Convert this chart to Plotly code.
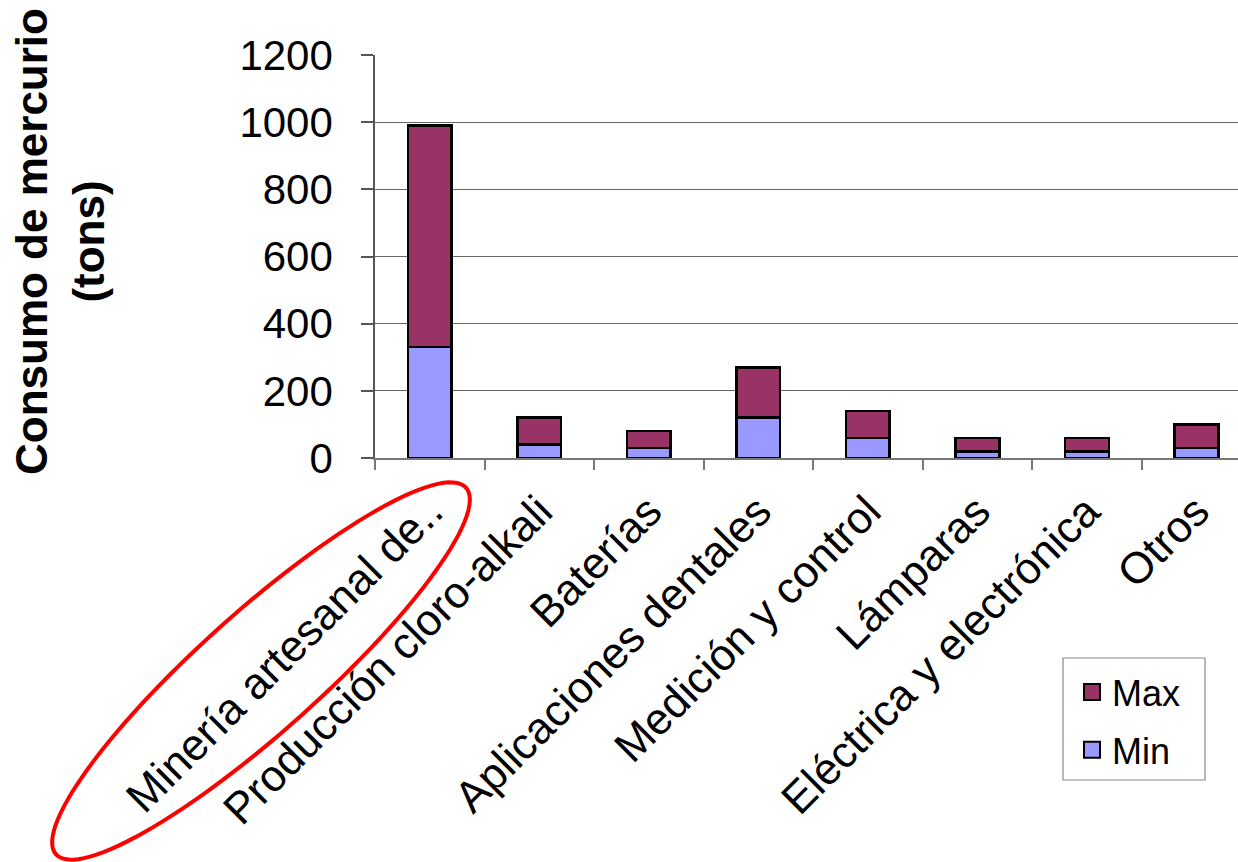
import math
import plotly.graph_objects as go

# Mercury consumption by sector (tons): lower and upper estimates
categorias = [
    "Minería artesanal de..",
    "Producción cloro-alkali",
    "Baterías",
    "Aplicaciones dentales",
    "Medición y control",
    "Lámparas",
    "Eléctrica y electrónica",
    "Otros",
]
consumo_min = [330, 40, 30, 120, 60, 20, 20, 30]
consumo_max = [990, 120, 80, 270, 140, 60, 60, 100]
y_ticks = [0, 200, 400, 600, 800, 1000, 1200]

# the Max bar is stacked on top of Min, so its segment is the difference
tramo_max = [mx - mn for mx, mn in zip(consumo_max, consumo_min)]

COLOR_MIN = "#9999FF"
COLOR_MAX = "#993366"

W, H = 1238, 862
M_L, M_R, M_T, M_B = 375, 0, 55, 404
PLOT_W = W - M_L - M_R
PLOT_H = H - M_T - M_B


def px_x(px):
    return (px - M_L) / PLOT_W


def px_y(py):
    return (H - M_B - py) / PLOT_H


FONT = "Arial, Liberation Sans, sans-serif"

fig = go.Figure()
fig.add_trace(go.Bar(
    x=categorias, y=consumo_min, name="Min", showlegend=False,
    marker=dict(color=COLOR_MIN, line=dict(color="#000000", width=2.5)),
    width=0.4,
))
fig.add_trace(go.Bar(
    x=categorias, y=tramo_max, name="Max", showlegend=False,
    marker=dict(color=COLOR_MAX, line=dict(color="#000000", width=2.5)),
    width=0.4,
))

# legend entries with larger square swatches
for nombre, color in [("Max", COLOR_MAX), ("Min", COLOR_MIN)]:
    fig.add_trace(go.Scatter(
        x=[None], y=[None], mode="markers", name=nombre,
        legendgroup=nombre,
        marker=dict(symbol="square", size=16, color=color,
                    line=dict(color="#000000", width=2)),
    ))

# red ellipse highlighting the first category label
cx, cy, a, b, ang = 261, 671, 275, 60, math.radians(41.8)
pts = []
for i in range(121):
    t = 2 * math.pi * i / 120
    ex = a * math.cos(t)
    ey = b * math.sin(t)
    px = cx + ex * math.cos(ang) + ey * math.sin(ang)
    py = cy - ex * math.sin(ang) + ey * math.cos(ang)
    pts.append(f"{px_x(px):.5f},{px_y(py):.5f}")
path = "M" + " L".join(pts) + " Z"

fig.add_shape(type="path", path=path, xref="paper", yref="paper",
              line=dict(color="#FF0000", width=4), layer="above")

# legend frame
fig.add_shape(type="rect", xref="paper", yref="paper",
              x0=px_x(1063), x1=px_x(1205), y0=px_y(780), y1=px_y(658),
              line=dict(color="#888888", width=1.2), fillcolor="#FFFFFF",
              layer="below")

fig.add_annotation(
    text="<b>Consumo de mercurio<br>(tons)</b>",
    xref="paper", yref="paper", x=px_x(60), y=px_y(242),
    xanchor="center", yanchor="middle", textangle=-90, showarrow=False,
    font=dict(family=FONT, size=44, color="#000000"),
)

fig.update_layout(
    width=W, height=H,
    margin=dict(l=M_L, r=M_R, t=M_T, b=M_B, pad=0),
    barmode="stack",
    plot_bgcolor="#FFFFFF", paper_bgcolor="#FFFFFF",
    font=dict(family=FONT, color="#000000"),
    showlegend=True,
    legend=dict(
        x=px_x(1072), y=px_y(662), xanchor="left", yanchor="top",
        bgcolor="rgba(0,0,0,0)", borderwidth=0,
        font=dict(family=FONT, size=36, color="#000000"),
        itemwidth=30, tracegroupgap=8,
    ),
    xaxis=dict(
        type="category", range=[-0.5, 7.38],
        tickangle=-45, tickson="boundaries",
        ticks="outside", ticklen=10, tickcolor="#777777", tickwidth=1.5,
        showline=True, linecolor="#777777", linewidth=1.5,
        showgrid=False, ticklabelstandoff=8,
        tickfont=dict(family=FONT, size=44, color="#000000"),
    ),
    yaxis=dict(
        range=[0, 1200], tickvals=y_ticks,
        ticks="outside", ticklen=12, tickcolor="#555555", tickwidth=1.5,
        showline=True, linecolor="#555555", linewidth=1.5,
        showgrid=True, gridcolor="#666666", gridwidth=1.2,
        zeroline=False, ticklabelstandoff=20,
        tickfont=dict(family=FONT, size=42, color="#000000"),
    ),
)

fig.write_html("out.html")
